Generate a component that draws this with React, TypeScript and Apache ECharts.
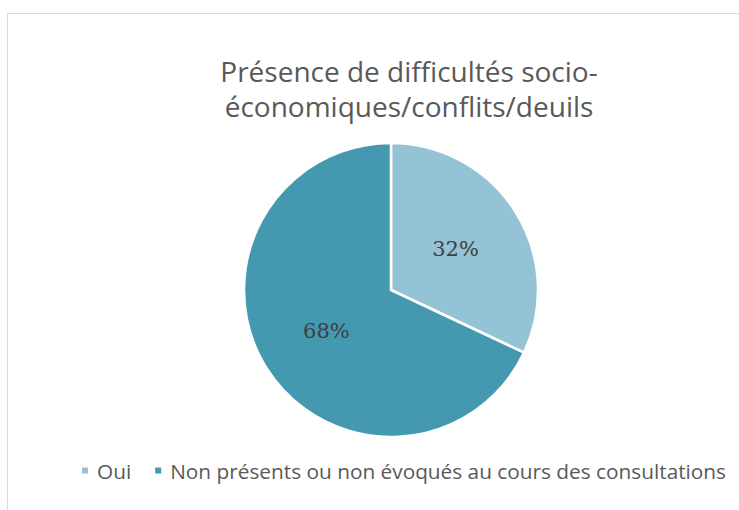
import React, { useEffect, useRef } from "react";
import * as echarts from "echarts";

const categories = ["Oui", "Non présents ou non évoqués au cours des consultations"];
const values = [32, 68];
const colors = ["#93c3d5", "#4499b0"];
const titleLines = ["Présence de difficultés socio-", "économiques/conflits/deuils"];

export default function App() {
  const ref = useRef<HTMLDivElement>(null);
  useEffect(() => {
    document.body.style.margin = "0";
    const chart = echarts.init(ref.current!, undefined, { renderer: "svg" });
    chart.setOption({
      animation: false,
      backgroundColor: "#ffffff",
      title: {
        text: titleLines.join("\n"),
        left: 409,
        top: 53,
        padding: 0,
        textAlign: "center",
        textStyle: {
          fontFamily: "Open Sans",
          fontSize: 28,
          fontWeight: "normal",
          color: "#595959",
          lineHeight: 35,
        },
      },
      legend: {
        top: 460,
        left: 80,
        padding: 0,
        icon: "rect",
        itemWidth: 8,
        itemHeight: 8,
        itemGap: 22,
        data: categories,
        textStyle: { fontFamily: "Open Sans", fontSize: 20.8, color: "#595959", padding: [0, 0, 0, 3] },
      },
      graphic: [
        {
          type: "rect",
          shape: { x: 7.5, y: 13.5, width: 800, height: 600 },
          style: { fill: "none", stroke: "#d9d9d9", lineWidth: 1 },
          silent: true,
          z: -1,
        },
      ],
      series: [
        {
          type: "pie",
          center: [391, 290],
          radius: 147,
          startAngle: 90,
          clockwise: true,
          data: categories.map((c, i) => ({ name: c, value: values[i], itemStyle: { color: colors[i] } })),
          itemStyle: { borderColor: "#ffffff", borderWidth: 2.5 },
          label: {
            position: "inside",
            formatter: "{d}%",
            fontFamily: "DejaVu Serif",
            fontSize: 21,
            color: "#404040",
          },
          labelLine: { show: false },
          emphasis: { disabled: true },
        },
      ],
    });
    return () => chart.dispose();
  }, []);
  return <div ref={ref} style={{ position: "absolute", left: 0, top: 0, width: 739, height: 510 }} />;
}
